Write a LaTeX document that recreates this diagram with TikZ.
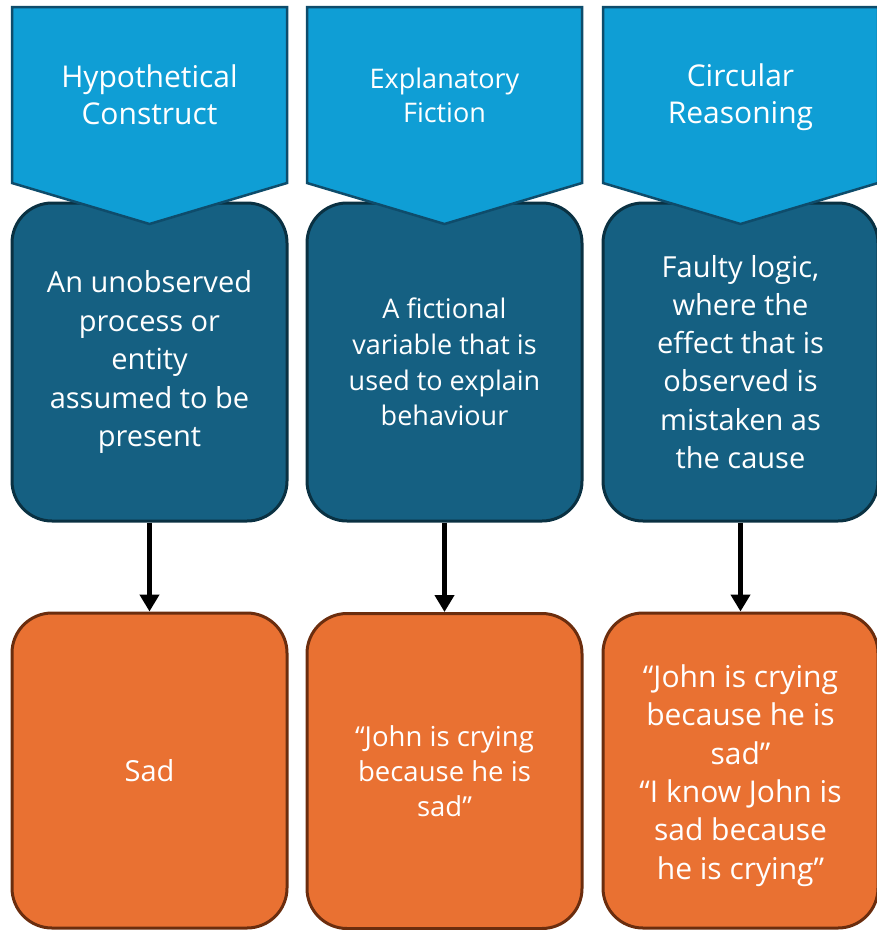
\documentclass[tikz,border=0pt]{standalone}
\usepackage{fontspec}
\setmainfont{Open Sans}
\usetikzlibrary{arrows.meta}
\definecolor{hdrfill}{HTML}{0F9ED5}
\definecolor{hdrline}{HTML}{0E4C6B}
\definecolor{darkfill}{HTML}{156082}
\definecolor{darkline}{HTML}{0A3142}
\definecolor{orfill}{HTML}{E97132}
\definecolor{orline}{HTML}{6B2D0E}
\tikzset{
  hdr/.style={fill=hdrfill, draw=hdrline, line width=2.5pt, line join=miter},
  hdrtext/.style={text=white, align=center, font=\fontsize{30}{37}\selectfont},
  darkbox/.style={draw=darkline, fill=darkfill, line width=3pt, rounded corners=40pt,
    minimum width=275pt, minimum height=318pt, inner sep=0pt, text=white, align=center},
  orbox/.style={draw=orline, fill=orfill, line width=3pt, rounded corners=40pt,
    minimum width=275pt, minimum height=315pt, inner sep=0pt, text=white, align=center},
  conn/.style={line width=5pt, -{Triangle[width=19pt,length=17pt]}},
}
\begin{document}
\begin{tikzpicture}[x=1pt,y=-1pt]
\useasboundingbox (0,0) rectangle (877,930);
% dark boxes
\node[darkbox, font=\fontsize{29}{38.5}\selectfont] (d1) at (149.5,362) {An unobserved\\process or\\entity\\assumed to be\\present};
\node[darkbox, font=\fontsize{27}{35.7}\selectfont] (d2) at (444.5,362) {A fictional\\variable that is\\used to explain\\behaviour};
\node[darkbox, font=\fontsize{29}{38.2}\selectfont] (d3) at (740.5,362) {Faulty logic,\\where the\\effect that is\\observed is\\mistaken as\\the cause};
% header chevrons
\foreach \c/\n in {149.5/h1, 444.5/h2, 740.5/h3}{
  \draw[hdr] (\c-137.5,7) -- (\c+137.5,7) -- (\c+137.5,183) -- (\c,224) -- (\c-137.5,183) -- cycle;
}
\node[hdrtext] (t1) at (149.5,95) {Hypothetical\\Construct};
\node[hdrtext, font=\fontsize{27}{34}\selectfont] (t2) at (444.5,95) {Explanatory\\Fiction};
\node[hdrtext] (t3) at (740.5,97.5) {Circular\\Reasoning};
% orange boxes
\node[orbox, font=\fontsize{29}{38.4}\selectfont] (o1) at (149.5,770.5) {Sad};
\node[orbox, font=\fontsize{27.5}{35}\selectfont] (o2) at (444.5,771) {“John is crying\\because he is\\sad”};
\node[orbox] (o3) at (740.5,770.5) {};
\node[text=white, align=center, font=\fontsize{30}{38.4}\selectfont] (o3t) at (740.5,775.5) {“John is crying\\because he is\\sad”\\“I know John is\\sad because\\he is crying”};
% connectors
\draw[conn] (d1.south) -- (o1.north);
\draw[conn] (d2.south) -- (o2.north);
\draw[conn] (d3.south) -- (o3.north);
\end{tikzpicture}
\end{document}
